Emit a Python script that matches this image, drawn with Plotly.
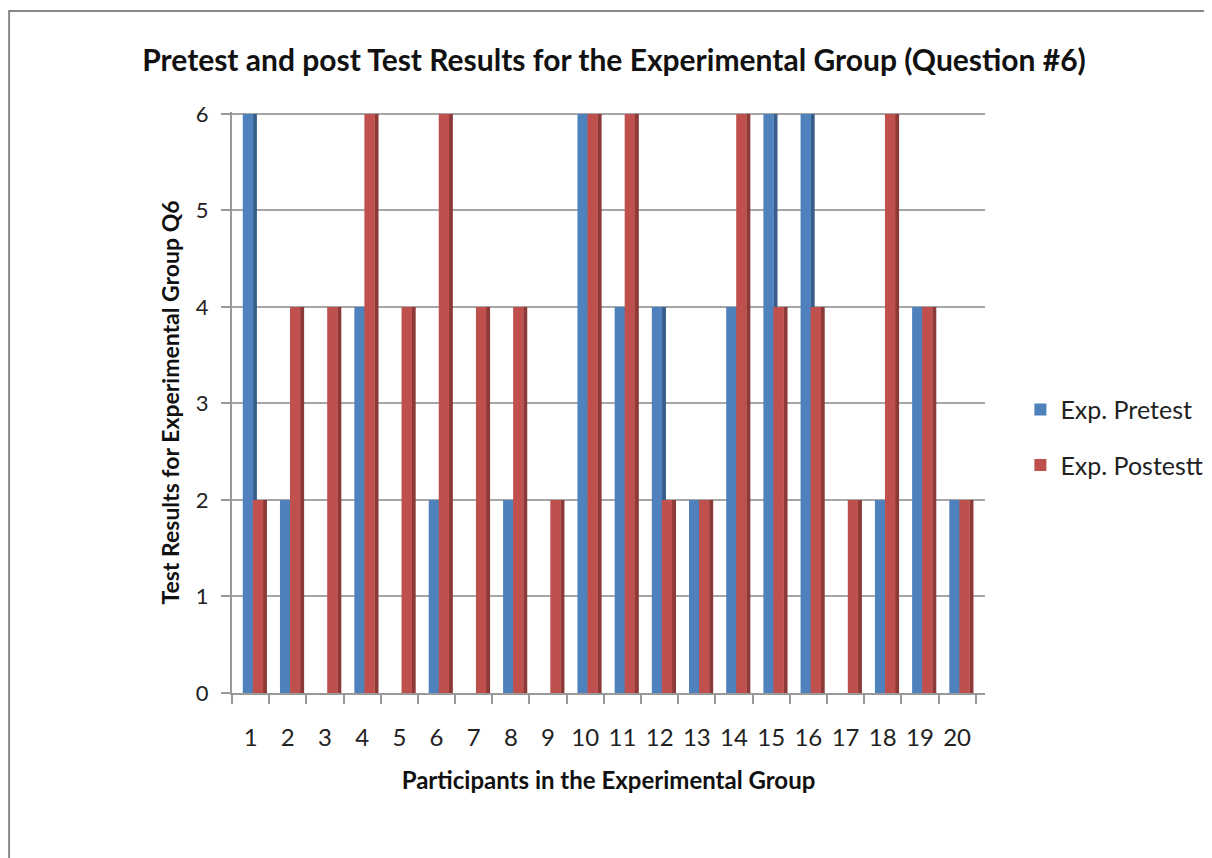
import plotly.graph_objects as go

participants = list(range(1, 21))
pretest = [6, 2, 0, 4, 0, 2, 0, 2, 0, 6, 4, 4, 2, 4, 6, 6, 0, 2, 4, 2]
posttest = [2, 4, 4, 6, 4, 6, 4, 4, 2, 6, 6, 2, 2, 6, 4, 4, 2, 6, 4, 2]
tick_labels = [str(p) for p in participants]

blue, blue_side = "#4F81BD", "#385D8A"
red, red_side = "#C0504D", "#8C3A38"

fig = go.Figure()
# side faces (3D look) and front faces
fig.add_trace(go.Bar(x=participants, y=pretest, offset=0.06, width=0.11,
                     marker=dict(color=blue_side, line_width=0), showlegend=False, hoverinfo="skip"))
fig.add_trace(go.Bar(x=participants, y=pretest, offset=-0.21, width=0.28, name="Exp. Pretest",
                     marker=dict(color=blue, line_width=0), legendgroup="a"))
fig.add_trace(go.Bar(x=participants, y=posttest, offset=0.33, width=0.11,
                     marker=dict(color=red_side, line_width=0), showlegend=False, hoverinfo="skip"))
fig.add_trace(go.Bar(x=participants, y=posttest, offset=0.06, width=0.28, name="Exp. Postestt",
                     marker=dict(color=red, line_width=0), legendgroup="b"))

bold_font = "Lato, sans-serif"
fig.update_layout(
    width=1212, height=858,
    barmode="overlay",
    plot_bgcolor="white", paper_bgcolor="white",
    margin=dict(l=224, r=235, t=104, b=173),
    title=dict(text="<b>Pretest and post Test Results for the Experimental Group (Question #6)</b>",
               x=0.5, xanchor="center", y=0.939, yanchor="middle",
               font=dict(family=bold_font, size=30, color="#111")),
    xaxis=dict(range=[0.5, 20.75], tickmode="array", tickvals=participants, ticktext=tick_labels,
               ticks="", ticklabelstandoff=22,
               tickfont=dict(family="Lato, sans-serif", size=24, color="#222"),
               showgrid=False, zeroline=False,
               showline=True, linecolor="#999", linewidth=2,
               minor=dict(tick0=0.5, dtick=1, ticks="outside", ticklen=9, tickcolor="#999", tickwidth=2),
               title=dict(text="<b>Participants in the Experimental Group</b>", standoff=22,
                          font=dict(family=bold_font, size=24, color="#111"))),
    yaxis=dict(range=[0, 6.02], tickvals=[0, 1, 2, 3, 4, 5, 6],
               tickfont=dict(family="Lato, sans-serif", size=22, color="#222"),
               ticks="outside", ticklen=9, tickcolor="#999", tickwidth=2, ticklabelstandoff=8,
               showgrid=True, gridcolor="#A6A6A6", gridwidth=2, zeroline=False,
               showline=True, linecolor="#999", linewidth=2,
               title=dict(text="<b>Test Results for Experimental Group Q6</b>", standoff=10,
                          font=dict(family=bold_font, size=23, color="#111"))),
    legend=dict(x=1.047, y=0.44, xanchor="left", yanchor="middle", tracegroupgap=20,
                font=dict(family="Lato, sans-serif", size=25, color="#222"),
                itemsizing="constant"),
    shapes=[dict(type="rect", xref="paper", yref="paper", x0=-0.296, x1=1.8, y0=-0.5, y1=1.1738,
                 line=dict(color="#888", width=2), fillcolor="rgba(0,0,0,0)", layer="below")],
)

fig.write_html("out.html")
